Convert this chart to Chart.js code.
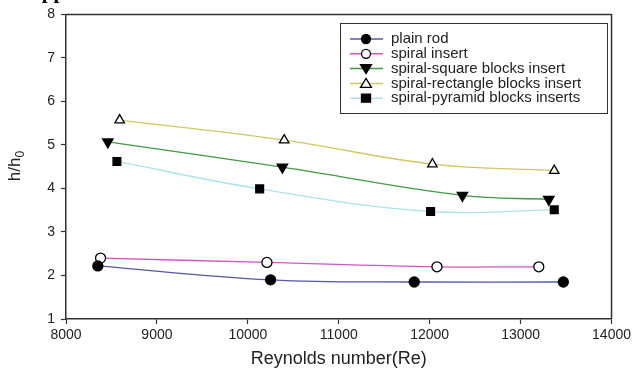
<!DOCTYPE html>
<html>
<head>
<meta charset="utf-8">
<script src="https://cdn.jsdelivr.net/npm/chart.js@4"></script>
<style>
  html, body { margin: 0; padding: 0; background: #fff; }
  #wrap { width: 634px; height: 370px; }
</style>
</head>
<body>
<div id="wrap"><canvas id="myChart" width="634" height="370"></canvas></div>
<script>
// values
var seriesNames = ['plain rod', 'spiral insert', 'spiral-square blocks insert', 'spiral-rectangle blocks insert', 'spiral-pyramid blocks inserts'];
var plainRodRe = [8350, 10250, 11830, 13470];
var plainRodH = [2.22, 1.90, 1.85, 1.85];
var spiralRe = [8380, 10210, 12080, 13200];
var spiralH = [2.40, 2.30, 2.20, 2.20];
var squareRe = [8460, 10380, 12360, 13310];
var squareH = [5.07, 4.49, 3.84, 3.75];
var rectangleRe = [8590, 10400, 12030, 13370];
var rectangleH = [5.57, 5.11, 4.56, 4.41];
var pyramidRe = [8560, 10130, 12010, 13370];
var pyramidH = [4.62, 3.99, 3.47, 3.51];
var xTicks = [8000, 9000, 10000, 11000, 12000, 13000, 14000];
var yTicks = [1, 2, 3, 4, 5, 6, 7, 8];

var lineColors = ['#5656a8', '#d452c8', '#3f9c3f', '#d6c65e', '#a9e3ec'];
var markers = [
    { style: 'circle', fill: '#000', rot: 0, r: 5 },
    { style: 'circle', fill: '#fff', rot: 0, r: 5 },
    { style: 'triangle', fill: '#000', rot: 180, r: 6 },
    { style: 'triangle', fill: '#fff', rot: 0, r: 5.5 },
    { style: 'rect', fill: '#000', rot: 0, r: 5.5 }
];

function pts(xs, ys) {
    return xs.map(function (x, i) { return { x: x, y: ys[i] }; });
}

var allData = [pts(plainRodRe, plainRodH), pts(spiralRe, spiralH), pts(squareRe, squareH),
    pts(rectangleRe, rectangleH), pts(pyramidRe, pyramidH)];

var datasets = allData.map(function (d, i) {
    return {
        label: seriesNames[i],
        data: d,
        showLine: true,
        borderColor: lineColors[i],
        borderWidth: 1.3,
        tension: 0.4,
        pointStyle: markers[i].style,
        pointRotation: markers[i].rot,
        pointRadius: markers[i].r,
        pointBackgroundColor: markers[i].fill,
        pointBorderColor: '#000',
        pointBorderWidth: 1.3
    };
});

function drawMarker(ctx, m, x, y) {
    ctx.save();
    ctx.fillStyle = m.fill;
    ctx.strokeStyle = '#000';
    ctx.lineWidth = 1.3;
    ctx.beginPath();
    if (m.style === 'circle') {
        ctx.arc(x, y, m.r - 0.5, 0, Math.PI * 2);
    } else if (m.style === 'rect') {
        ctx.rect(x - 4.5, y - 4, 9, 8);
    } else {
        var s = m.rot === 180 ? -1 : 1;
        ctx.moveTo(x, y - 5 * s);
        ctx.lineTo(x + 5.5, y + 4 * s);
        ctx.lineTo(x - 5.5, y + 4 * s);
        ctx.closePath();
    }
    ctx.fill();
    ctx.stroke();
    ctx.restore();
}

var decorations = {
    id: 'decorations',
    afterDraw: function (chart) {
        var ctx = chart.ctx;
        var a = chart.chartArea;
        ctx.save();
        // frame top and right
        ctx.strokeStyle = '#333';
        ctx.lineWidth = 1.5;
        ctx.beginPath();
        ctx.moveTo(a.left, a.top);
        ctx.lineTo(a.right, a.top);
        ctx.lineTo(a.right, a.bottom);
        ctx.stroke();

        // legend box
        ctx.lineWidth = 1;
        ctx.strokeStyle = '#333';
        ctx.strokeRect(340.5, 23.5, 267, 90);
        ctx.font = '15px "Liberation Sans", Arial, sans-serif';
        ctx.textBaseline = 'middle';
        ctx.fillStyle = '#222';
        for (var i = 0; i < seriesNames.length; i++) {
            var y = 39 + i * 14.8;
            ctx.strokeStyle = lineColors[i];
            ctx.lineWidth = 1.5;
            ctx.beginPath();
            ctx.moveTo(350, y);
            ctx.lineTo(383, y);
            ctx.stroke();
            drawMarker(ctx, markers[i], 366, y);
            ctx.fillStyle = '#222';
            ctx.fillText(seriesNames[i], 391, y);
        }

        // y axis title h/h0
        ctx.save();
        ctx.translate(20, 166);
        ctx.rotate(-Math.PI / 2);
        ctx.font = '17px "Liberation Sans", Arial, sans-serif';
        ctx.textBaseline = 'alphabetic';
        ctx.fillStyle = '#222';
        var main = 'h/h';
        var w = ctx.measureText(main).width;
        ctx.font = '12px "Liberation Sans", Arial, sans-serif';
        var w2 = ctx.measureText('0').width;
        var x0 = -(w + w2) / 2;
        ctx.font = '17px "Liberation Sans", Arial, sans-serif';
        ctx.fillText(main, x0, 0);
        ctx.font = '12px "Liberation Sans", Arial, sans-serif';
        ctx.fillText('0', x0 + w, 4);
        ctx.restore();

        // cut-off text from the page above
        ctx.font = 'bold 21px "Liberation Serif", "DejaVu Serif", serif';
        ctx.fillStyle = '#000';
        ctx.textBaseline = 'alphabetic';
        ctx.fillText('supplement.', 22, -2);
        ctx.restore();
    }
};

var ctx = document.getElementById('myChart').getContext('2d');
var myChart = new Chart(ctx, {
    type: 'scatter',
    data: { datasets: datasets },
    options: {
        responsive: false,
        animation: false,
        layout: { padding: { top: 13, right: 21, left: 0, bottom: 0 } },
        plugins: {
            legend: { display: false },
            tooltip: { enabled: false }
        },
        scales: {
            x: {
                type: 'linear',
                min: 8000,
                max: 14000,
                afterBuildTicks: function (s) { s.ticks = xTicks.map(function (v) { return { value: v }; }); },
                afterFit: function (s) { s.height = 51; },
                grid: { display: true, drawOnChartArea: false, tickLength: 5, tickColor: '#333', tickWidth: 1.2 },
                border: { color: '#333', width: 1.5 },
                ticks: {
                    color: '#222',
                    padding: 3,
                    maxRotation: 0,
                    font: { family: '"Liberation Sans", Arial, sans-serif', size: 14 },
                    callback: function (v) { return String(v); }
                },
                title: {
                    display: true,
                    text: 'Reynolds number(Re)',
                    color: '#222',
                    font: { family: '"Liberation Sans", Arial, sans-serif', size: 18 },
                    padding: { top: 2, bottom: 0 }
                }
            },
            y: {
                min: 1,
                max: 8,
                afterBuildTicks: function (s) { s.ticks = yTicks.map(function (v) { return { value: v }; }); },
                afterFit: function (s) { s.width = 66; },
                grid: { display: true, drawOnChartArea: false, tickLength: 5, tickColor: '#333', tickWidth: 1.2 },
                border: { color: '#333', width: 1.5 },
                ticks: {
                    color: '#222',
                    padding: 6,
                    font: { family: '"Liberation Sans", Arial, sans-serif', size: 14 }
                }
            }
        }
    },
    plugins: [decorations]
});
</script>
</body>
</html>
